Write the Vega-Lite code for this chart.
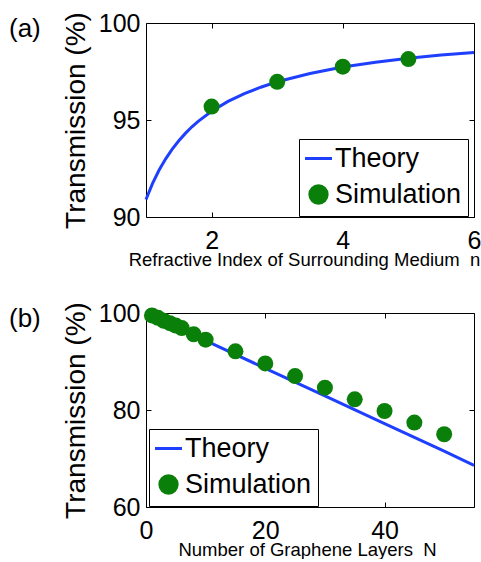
{
  "$schema": "https://vega.github.io/schema/vega-lite/v6.json",
  "background": "white",
  "padding": {"left": 8, "top": 10, "right": 0, "bottom": 0},
  "bounds": "flush",
  "spacing": 96,
  "config": {
    "view": {"stroke": "black", "strokeWidth": 1},
    "font": "Liberation Sans",
    "axis": {
      "domain": false, "grid": false, "ticks": true, "tickSize": -5, "tickColor": "black", "tickWidth": 1,
      "labelFont": "Liberation Sans", "labelFontSize": 25, "labelColor": "black", "labelFlush": false, "labelOverlap": false,
      "titleFont": "Liberation Sans", "titleFontWeight": "normal", "titleColor": "black"
    },
    "title": {"font": "Liberation Sans", "fontSize": 26, "fontWeight": "normal", "color": "black"}
  },
  "resolve": {"scale": {"color": "independent"}, "legend": {"color": "independent"}},
  "vconcat": [
    {
      "width": 328, "height": 194,
      "title": {"text": "(a)", "anchor": "start", "frame": "group", "orient": "top", "offset": 0, "dx": -137, "dy": 52, "baseline": "alphabetic"},
      "resolve": {"axis": {"x": "independent", "y": "independent"}},
      "layer": [
        {
          "data": {"values": [
            {"n": 1.0, "T": 90.90, "series": "Theory"},
            {"n": 1.1, "T": 91.73, "series": "Theory"},
            {"n": 1.2, "T": 92.42, "series": "Theory"},
            {"n": 1.3, "T": 93.00, "series": "Theory"},
            {"n": 1.4, "T": 93.50, "series": "Theory"},
            {"n": 1.5, "T": 93.93, "series": "Theory"},
            {"n": 1.6, "T": 94.31, "series": "Theory"},
            {"n": 1.7, "T": 94.65, "series": "Theory"},
            {"n": 1.8, "T": 94.94, "series": "Theory"},
            {"n": 2.0, "T": 95.45, "series": "Theory"},
            {"n": 2.25, "T": 95.96, "series": "Theory"},
            {"n": 2.5, "T": 96.36, "series": "Theory"},
            {"n": 2.75, "T": 96.69, "series": "Theory"},
            {"n": 3.0, "T": 96.97, "series": "Theory"},
            {"n": 3.5, "T": 97.40, "series": "Theory"},
            {"n": 4.0, "T": 97.73, "series": "Theory"},
            {"n": 4.5, "T": 97.98, "series": "Theory"},
            {"n": 5.0, "T": 98.18, "series": "Theory"},
            {"n": 5.5, "T": 98.35, "series": "Theory"},
            {"n": 6.0, "T": 98.48, "series": "Theory"}
          ]},
          "mark": {"type": "line", "strokeWidth": 3},
          "encoding": {
            "x": {"field": "n", "type": "quantitative", "scale": {"domain": [1, 6], "nice": false, "zero": false},
              "axis": {"orient": "bottom", "values": [2, 4, 6], "labelPadding": 16, "title": "Refractive Index of Surrounding Medium\u00a0\u00a0n", "titleFontSize": 18.5, "titleY": 33, "titleX": 158, "titleBaseline": "top"}},
            "y": {"field": "T", "type": "quantitative", "scale": {"domain": [90, 100], "nice": false, "zero": false},
              "axis": {"orient": "left", "values": [90, 95, 100], "labelPadding": 11, "title": "Transmission (%)", "titleFontSize": 28, "titleX": -62, "titleY": 97, "titleAngle": 270, "titleBaseline": "alphabetic", "titleAlign": "center"}},
            "color": {"field": "series", "type": "nominal", "scale": {"domain": ["Theory", "Simulation"], "range": ["#1f3fff", "#0a800a"]},
              "legend": {"orient": "none", "legendX": 153, "legendY": 116, "title": null, "strokeColor": "black", "fillColor": "white", "padding": 6, "cornerRadius": 0,
                "labelFont": "Liberation Sans", "labelFontSize": 27, "labelColor": "black", "symbolSize": 729, "labelOffset": 3, "rowPadding": 7,
                "encode": {"symbols": {"update": {
                  "shape": {"signal": "datum.value === 'Theory' ? 'stroke' : 'circle'"},
                  "size": {"signal": "datum.value === 'Theory' ? 729 : 300"},
                  "fill": {"signal": "datum.value === 'Theory' ? 'transparent' : '#0a800a'"},
                  "stroke": {"signal": "datum.value === 'Theory' ? '#1f3fff' : 'transparent'"},
                  "strokeWidth": {"value": 3},
                  "opacity": {"value": 1}
                }}}}}
          }
        },
        {
          "data": {"values": [
            {"n": 2, "T": 95.69, "series": "Simulation"},
            {"n": 3, "T": 96.97, "series": "Simulation"},
            {"n": 4, "T": 97.75, "series": "Simulation"},
            {"n": 5, "T": 98.14, "series": "Simulation"}
          ]},
          "mark": {"type": "point", "filled": true, "size": 256, "opacity": 1},
          "encoding": {
            "x": {"field": "n", "type": "quantitative", "axis": {"orient": "top", "values": [2, 4, 6], "labels": false, "title": null}},
            "y": {"field": "T", "type": "quantitative", "axis": {"orient": "right", "values": [90, 95, 100], "labels": false, "title": null}},
            "color": {"field": "series", "type": "nominal"}
          }
        }
      ]
    },
    {
      "width": 328, "height": 194,
      "title": {"text": "(b)", "anchor": "start", "frame": "group", "orient": "top", "offset": 0, "dx": -137, "dy": 52, "baseline": "alphabetic"},
      "resolve": {"axis": {"x": "independent", "y": "independent"}},
      "layer": [
        {
          "data": {"values": [
            {"N": 0, "T": 100.0, "series": "Theory"},
            {"N": 10, "T": 94.3, "series": "Theory"},
            {"N": 20, "T": 88.6, "series": "Theory"},
            {"N": 30, "T": 82.9, "series": "Theory"},
            {"N": 40, "T": 77.2, "series": "Theory"},
            {"N": 50, "T": 71.5, "series": "Theory"},
            {"N": 55, "T": 68.6, "series": "Theory"}
          ]},
          "mark": {"type": "line", "strokeWidth": 3},
          "encoding": {
            "x": {"field": "N", "type": "quantitative", "scale": {"domain": [0, 55], "nice": false, "zero": false},
              "axis": {"orient": "bottom", "values": [0, 20, 40], "labelPadding": 16, "title": "Number of Graphene Layers\u00a0\u00a0N", "titleFontSize": 18.5, "titleY": 33, "titleX": 161, "titleBaseline": "top"}},
            "y": {"field": "T", "type": "quantitative", "scale": {"domain": [60, 100], "nice": false, "zero": false},
              "axis": {"orient": "left", "values": [60, 80, 100], "labelPadding": 11, "title": "Transmission (%)", "titleFontSize": 28, "titleX": -62, "titleY": 97, "titleAngle": 270, "titleBaseline": "alphabetic", "titleAlign": "center"}},
            "color": {"field": "series", "type": "nominal", "scale": {"domain": ["Theory", "Simulation"], "range": ["#1f3fff", "#0a800a"]},
              "legend": {"orient": "none", "legendX": 3, "legendY": 116, "title": null, "strokeColor": "black", "fillColor": "white", "padding": 6, "cornerRadius": 0,
                "labelFont": "Liberation Sans", "labelFontSize": 27, "labelColor": "black", "symbolSize": 729, "labelOffset": 3, "rowPadding": 7,
                "encode": {"symbols": {"update": {
                  "shape": {"signal": "datum.value === 'Theory' ? 'stroke' : 'circle'"},
                  "size": {"signal": "datum.value === 'Theory' ? 729 : 300"},
                  "fill": {"signal": "datum.value === 'Theory' ? 'transparent' : '#0a800a'"},
                  "stroke": {"signal": "datum.value === 'Theory' ? '#1f3fff' : 'transparent'"},
                  "strokeWidth": {"value": 3},
                  "opacity": {"value": 1}
                }}}}}
          }
        },
        {
          "data": {"values": [
            {"N": 1, "T": 99.5, "series": "Simulation"},
            {"N": 2, "T": 99.0, "series": "Simulation"},
            {"N": 3, "T": 98.4, "series": "Simulation"},
            {"N": 4, "T": 97.9, "series": "Simulation"},
            {"N": 5, "T": 97.4, "series": "Simulation"},
            {"N": 6, "T": 96.9, "series": "Simulation"},
            {"N": 8, "T": 95.6, "series": "Simulation"},
            {"N": 10, "T": 94.5, "series": "Simulation"},
            {"N": 15, "T": 92.1, "series": "Simulation"},
            {"N": 20, "T": 89.6, "series": "Simulation"},
            {"N": 25, "T": 87.0, "series": "Simulation"},
            {"N": 30, "T": 84.6, "series": "Simulation"},
            {"N": 35, "T": 82.2, "series": "Simulation"},
            {"N": 40, "T": 79.8, "series": "Simulation"},
            {"N": 45, "T": 77.4, "series": "Simulation"},
            {"N": 50, "T": 75.0, "series": "Simulation"}
          ]},
          "mark": {"type": "point", "filled": true, "size": 256, "opacity": 1},
          "encoding": {
            "x": {"field": "N", "type": "quantitative", "axis": {"orient": "top", "values": [0, 20, 40], "labels": false, "title": null}},
            "y": {"field": "T", "type": "quantitative", "axis": {"orient": "right", "values": [60, 80, 100], "labels": false, "title": null}},
            "color": {"field": "series", "type": "nominal"}
          }
        }
      ]
    }
  ]
}
